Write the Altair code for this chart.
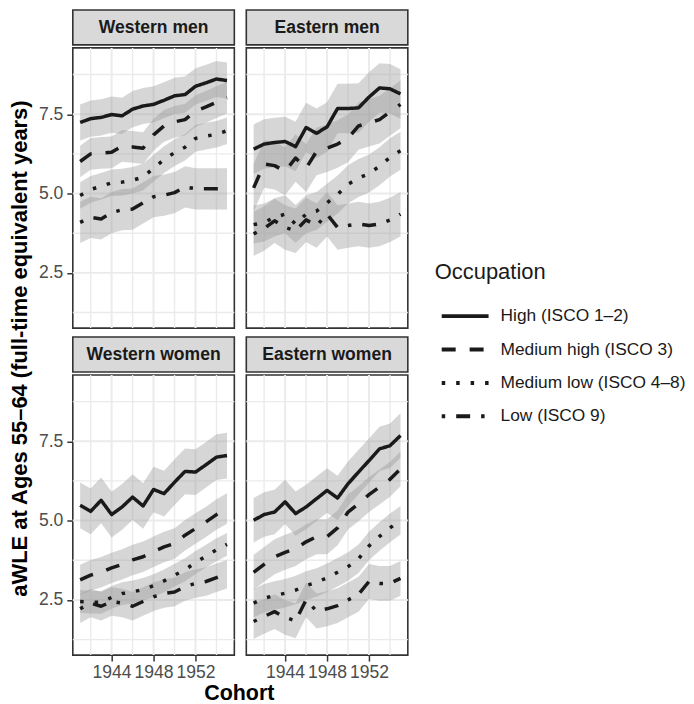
import altair as alt
import pandas as pd

FONT = "Liberation Sans"

cohorts = list(range(1941, 1956))
panel_names = ["Western men", "Eastern men", "Western women", "Eastern women"]
occupations = ["High (ISCO 1–2)", "Medium high (ISCO 3)", "Medium low (ISCO 4–8)", "Low (ISCO 9)"]
y_title = "aWLE at Ages 55–64 (full-time equivalent years)"
x_title = "Cohort"

# Western men
wm_high = [7.24, 7.36, 7.40, 7.49, 7.45, 7.66, 7.76, 7.81, 7.94, 8.08, 8.12, 8.38, 8.49, 8.61, 8.56]
wm_medhigh = [6.01, 6.25, 6.28, 6.30, 6.50, 6.47, 6.43, 6.85, 7.13, 7.26, 7.33, 7.60, 7.73, 7.88, 8.02]
wm_medlow = [4.94, 5.13, 5.23, 5.34, 5.36, 5.42, 5.52, 5.80, 6.07, 6.29, 6.46, 6.74, 6.81, 6.87, 6.98]
wm_low = [4.09, 4.25, 4.20, 4.40, 4.49, 4.51, 4.71, 4.90, 4.95, 5.03, 5.21, 5.15, 5.15, 5.15, 5.15]
# Eastern men
em_high = [6.40, 6.56, 6.61, 6.64, 6.48, 7.08, 6.90, 7.10, 7.68, 7.68, 7.70, 8.04, 8.33, 8.30, 8.14]
em_medhigh = [5.18, 5.93, 5.88, 5.70, 6.12, 5.80, 6.33, 6.43, 6.56, 6.74, 7.13, 7.23, 7.33, 7.57, 7.81]
em_medlow = [4.02, 4.09, 4.25, 4.35, 4.04, 4.35, 4.45, 4.71, 4.97, 5.29, 5.49, 5.63, 5.86, 6.14, 6.35]
em_low = [3.73, 3.90, 4.14, 3.93, 3.83, 4.17, 3.99, 4.35, 3.93, 3.99, 4.04, 3.99, 4.04, 4.17, 4.35]
# Western women
ww_high = [5.48, 5.29, 5.64, 5.19, 5.43, 5.74, 5.46, 5.98, 5.85, 6.21, 6.55, 6.53, 6.76, 7.00, 7.05]
ww_medhigh = [3.13, 3.28, 3.37, 3.51, 3.62, 3.76, 3.86, 4.02, 4.17, 4.28, 4.54, 4.75, 4.96, 5.19, 5.38]
ww_medlow = [2.45, 2.43, 2.42, 2.58, 2.70, 2.75, 2.83, 2.95, 3.10, 3.28, 3.45, 3.68, 3.88, 4.08, 4.25]
ww_low = [2.22, 2.40, 2.30, 2.45, 2.40, 2.30, 2.45, 2.60, 2.70, 2.75, 2.92, 3.02, 3.08, 3.20, 3.31]
# Eastern women
ew_high = [5.01, 5.19, 5.27, 5.59, 5.22, 5.43, 5.69, 5.95, 5.71, 6.16, 6.53, 6.89, 7.26, 7.36, 7.68]
ew_medhigh = [3.37, 3.62, 3.86, 4.00, 4.12, 4.33, 4.49, 4.49, 4.77, 5.27, 5.53, 5.82, 6.06, 6.30, 6.63]
ew_medlow = [2.40, 2.55, 2.64, 2.71, 2.81, 2.95, 3.05, 3.20, 3.37, 3.55, 3.80, 4.20, 4.50, 4.77, 5.01]
ew_low = [1.82, 1.98, 2.13, 1.95, 1.84, 2.50, 2.15, 2.22, 2.32, 2.50, 2.68, 3.08, 3.02, 3.02, 3.18]

# half-widths of the confidence ribbons (per occupation)
wm_ci = [0.57, 0.50, 0.42, 0.65]
em_ci = [0.78, 0.75, 0.60, 0.70]
ww_ci = [0.72, 0.48, 0.36, 0.45]
ew_ci = [0.70, 0.55, 0.45, 0.55]

x_major = [1944, 1948, 1952]
x_minor = [1942, 1946, 1950, 1954]
y_major = [2.5, 5.0, 7.5]
y_minor = [1.25, 3.75, 6.25, 8.75]

series = {
    "Western men": ([wm_high, wm_medhigh, wm_medlow, wm_low], wm_ci),
    "Eastern men": ([em_high, em_medhigh, em_medlow, em_low], em_ci),
    "Western women": ([ww_high, ww_medhigh, ww_medlow, ww_low], ww_ci),
    "Eastern women": ([ew_high, ew_medhigh, ew_medlow, ew_low], ew_ci),
}

rows = []
for p in panel_names:
    vals_list, cis = series[p]
    for occ, vals, hw in zip(occupations, vals_list, cis):
        for c, v in zip(cohorts, vals):
            rows.append(dict(panel=p, occ=occ, cohort=c, est=v, lo=v - hw, hi=v + hw))
df = pd.DataFrame(rows)

W, H, SH = 162, 281, 35
GAP_X, GAP_Y = 8, 6
GRID_H = 2 * (SH + H) + GAP_Y

xs = alt.Scale(domain=[1940.3, 1955.7], nice=False, zero=False)
ys = alt.Scale(domain=[0.76, 9.59], nice=False, zero=False)
dash_scale = alt.Scale(domain=occupations,
                       range=[[1, 0], [14, 14], [3.5, 11], [3.5, 11, 14, 11]])

GRID_COLOR = "#ebebeb"

legend = alt.Legend(
    title="Occupation", orient="none", legendX=426, legendY=253, padding=0,
    symbolType="stroke", symbolSize=2209, symbolStrokeWidth=4,
    symbolStrokeColor="#1a1a1a", symbolOffset=5,
    labelFont=FONT, labelFontSize=17.4, labelColor="#1a1a1a", labelOffset=10,
    labelLimit=300,
    titleFont=FONT, titleFontSize=22, titleFontWeight="normal",
    titleColor="#1a1a1a", titlePadding=23, rowPadding=15.5, clipHeight=18,
)


def x_axis(show):
    if not show:
        return None
    return alt.Axis(values=x_major, format="d", title=None, domain=False, grid=False,
                    tickSize=6, tickColor="#333333", tickWidth=1.5,
                    labelFont=FONT, labelFontSize=17.6, labelColor="#4d4d4d",
                    labelPadding=2, labelOverlap=False, labelFlush=False)


def y_axis(show):
    if not show:
        return None
    return alt.Axis(values=y_major, format=".1f", title=None, domain=False, grid=False,
                    tickSize=6, tickColor="#333333", tickWidth=1.5,
                    labelFont=FONT, labelFontSize=17.6, labelColor="#4d4d4d",
                    labelPadding=4, labelOverlap=False, labelFlush=False)


def panel(name, show_x, show_y):
    d = df[df.panel == name]
    ax = x_axis(show_x)
    ay = y_axis(show_y)
    gx_major = alt.Chart(pd.DataFrame({"v": x_major})).mark_rule(
        color=GRID_COLOR, strokeWidth=2).encode(x=alt.X("v:Q", scale=xs, axis=ax))
    gx_minor = alt.Chart(pd.DataFrame({"v": x_minor})).mark_rule(
        color=GRID_COLOR, strokeWidth=1.4).encode(x=alt.X("v:Q", scale=xs, axis=ax))
    gy_major = alt.Chart(pd.DataFrame({"v": y_major})).mark_rule(
        color=GRID_COLOR, strokeWidth=2).encode(y=alt.Y("v:Q", scale=ys, axis=ay))
    gy_minor = alt.Chart(pd.DataFrame({"v": y_minor})).mark_rule(
        color=GRID_COLOR, strokeWidth=1.4).encode(y=alt.Y("v:Q", scale=ys, axis=ay))
    ribbon = alt.Chart(d).mark_area(fill="#999999", opacity=0.4).encode(
        x=alt.X("cohort:Q", scale=xs, axis=ax),
        y=alt.Y("lo:Q", scale=ys, axis=ay),
        y2="hi:Q",
        detail="occ:N",
    )
    line = alt.Chart(d).mark_line(color="#1a1a1a", strokeWidth=3.5,
                                  strokeCap="butt", strokeJoin="round").encode(
        x=alt.X("cohort:Q", scale=xs, axis=ax),
        y=alt.Y("est:Q", scale=ys, axis=ay),
        strokeDash=alt.StrokeDash("occ:N", scale=dash_scale, sort=occupations,
                                  legend=legend),
    )
    return alt.layer(gx_minor, gx_major, gy_minor, gy_major, ribbon, line).properties(
        width=W, height=H)


def strip(name):
    return alt.Chart(pd.DataFrame({"label": [name]})).mark_text(
        font=FONT, fontSize=17.6, fontWeight="bold", color="#1a1a1a",
        baseline="middle", align="center").encode(
        text="label:N", x=alt.value(W / 2), y=alt.value(SH / 2 + 1)
    ).properties(width=W, height=SH,
                 view=alt.ViewBackground(fill="#d9d9d9", stroke="#333333", strokeWidth=1.6))


def column(name, show_x, show_y):
    return alt.vconcat(strip(name), panel(name, show_x, show_y), spacing=0)


row1 = alt.hconcat(column("Western men", False, True),
                   column("Eastern men", False, False), spacing=GAP_X)
row2 = alt.hconcat(column("Western women", True, True),
                   column("Eastern women", True, False), spacing=GAP_X)
grid = alt.vconcat(row1, row2, spacing=GAP_Y)

cohort_chart = alt.Chart(pd.DataFrame({"t": [x_title]})).mark_text(
    font=FONT, fontSize=21.5, fontWeight="bold", color="#000000",
    baseline="alphabetic", align="center").encode(
    text="t:N", x=alt.value(W + GAP_X / 2 + 1), y=alt.value(17)
).properties(width=2 * W + GAP_X, height=20,
             view=alt.ViewBackground(stroke="transparent"))

main = alt.vconcat(grid, cohort_chart, spacing=0)

ytitle_chart = alt.Chart(pd.DataFrame({"t": [y_title]})).mark_text(
    font=FONT, fontSize=22, fontWeight="bold", color="#000000",
    angle=270, baseline="top", align="center").encode(
    text="t:N", x=alt.value(0), y=alt.value(339.5)
).properties(width=22, height=GRID_H, view=alt.ViewBackground(stroke="transparent"))

chart = alt.hconcat(ytitle_chart, main, spacing=4).properties(
    padding={"left": 0, "top": 0, "right": 0, "bottom": 0}
).configure(font=FONT).configure_view(stroke="#333333", strokeWidth=1.6)

chart.save("out.html", embed_options={"renderer": "svg", "actions": False})
